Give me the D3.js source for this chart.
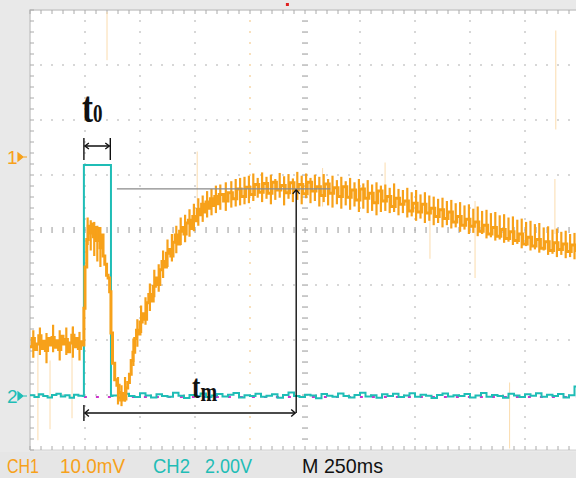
<!DOCTYPE html>
<html><head><meta charset="utf-8">
<script src="https://cdn.jsdelivr.net/npm/d3@7"></script>
<style>
html,body{margin:0;padding:0;background:#fff;}
svg{display:block;}
</style></head>
<body>
<svg id="c" width="576" height="478"></svg>
<script>
// ---------------- DATA ----------------
// CH1 (orange) samples: [time ms, mV relative to marker "1"]
const ch1Samples = [
 [0,-34.5],[10,-33.0],[20,-35.0],[30,-34.0],[40,-32.5],[50,-34.8],[60,-33.5],[70,-35.2],[80,-33.0],[90,-34.2],
 [100,-32.8],[110,-34.6],[120,-33.4],[130,-35.0],[140,-32.6],[150,-34.0],[160,-33.2],[170,-35.4],[180,-33.8],[190,-32.4],
 [200,-34.5],[210,-33.0],[220,-34.8],[230,-33.6],[240,-34.2],
 [245,-27.5],[250,-20.0],[258,-15.0],[265,-12.6],[272,-13.8],[280,-12.2],[288,-14.5],[295,-12.8],[302,-15.2],[310,-13.0],
 [318,-16.5],[325,-14.2],[332,-18.0],[340,-19.5],[348,-21.5],[355,-22.0],[362,-24.5],[368,-32.0],[375,-37.5],[385,-40.5],
 [395,-41.5],[405,-42.8],[412,-44.2],[420,-43.0],[428,-44.0],[436,-42.0],[444,-41.0],[452,-39.5],[460,-37.0],[468,-35.5],
 [476,-33.0],[484,-31.5],[492,-32.2],[500,-30.0],[510,-28.5],[520,-29.5],[530,-26.5],[540,-25.0],[550,-26.2],[560,-23.5],
 [570,-22.0],[580,-23.2],[590,-20.5],[600,-19.0],[610,-20.0],[620,-17.5],[630,-16.8],[640,-18.0],[650,-15.5],[660,-14.2],
 [670,-15.8],[680,-13.5],[690,-12.8],[700,-14.0],[710,-12.0],[720,-11.5],[730,-13.0],[740,-10.8],[750,-11.6],[760,-9.5],
 [770,-10.5],[780,-8.6],[790,-10.0],[800,-8.2],[810,-9.3],[820,-7.6],[830,-8.8],[840,-7.2],[850,-8.5],[860,-6.8],
 [880,-8.0],[900,-6.5],[920,-7.6],[940,-5.8],[960,-7.2],[980,-5.5],[1000,-6.8],[1020,-5.0],[1040,-6.4],[1060,-4.8],
 [1080,-6.6],[1100,-4.6],[1120,-6.0],[1140,-5.2],[1160,-6.5],[1180,-4.7],[1200,-6.0],[1220,-5.0],[1240,-6.7],[1260,-4.6],
 [1280,-6.2],[1300,-5.4],[1320,-7.0],[1340,-4.9],[1360,-6.6],[1380,-5.6],[1400,-7.2],[1420,-5.4],[1440,-7.3],[1460,-6.0],
 [1480,-7.8],[1500,-5.8],[1520,-7.5],[1540,-6.6],[1560,-8.3],[1580,-6.2],[1600,-8.0],[1620,-7.2],[1640,-9.0],[1660,-7.5],
 [1680,-8.6],[1700,-8.0],[1720,-9.8],[1740,-8.4],[1760,-10.0],[1780,-8.6],[1800,-10.2],[1820,-9.3],[1840,-10.8],[1860,-9.6],
 [1880,-11.2],[1900,-10.0],[1920,-11.8],[1940,-10.8],[1960,-12.4],[1980,-11.3],[2000,-12.6],[2020,-11.8],[2040,-13.5],[2060,-12.4],
 [2080,-14.0],[2100,-12.8],[2120,-14.4],[2140,-13.2],[2160,-14.8],[2180,-13.6],[2200,-15.2],[2220,-14.0],[2240,-15.8],[2260,-14.6],
 [2280,-16.2],[2300,-15.0],[2320,-16.6],[2340,-15.4],[2360,-17.0],[2380,-15.6],[2400,-16.8],[2420,-15.8],[2440,-17.2],[2460,-16.0],
 [2480,-17.0],[2500,-16.5]
];
// CH1 noise spikes drawn on the trace: [time ms, top mV, bottom mV]
const ch1Spikes = [
 [15,-31.5,-36.5],[45,-31,-36],[75,-32,-37.5],[105,-30.5,-35.5],[135,-31.5,-37],[165,-31,-36],[195,-30.8,-36.5],[225,-31.8,-37],
 [262,-11,-16],[276,-11.5,-17],[292,-11.8,-18],[306,-12.5,-19],[320,-14,-20],
 [400,-40,-45],[416,-41.5,-45.3],[432,-40,-44.5],
 [470,-33,-38],[488,-29.5,-34.5],[505,-27,-32],[525,-25.5,-30.5],[545,-23,-28],[565,-20.5,-25.5],[585,-19.5,-24.5],[605,-17,-22],
 [625,-15,-20],[645,-14,-19],[665,-12.5,-17.5],[685,-11,-16],[705,-10.5,-15.5],[725,-9.5,-14.5],[745,-8.5,-13.5],[765,-7.5,-12.5],
 [785,-7,-11.8],[805,-6.2,-11],[825,-5.8,-10.6],[845,-5.2,-10.2],[865,-5,-9.6],[890,-4.6,-9.8],[915,-4.4,-9.2],[935,-4.0,-9.0],
 [955,-3.8,-8.8],[975,-3.6,-8.6],[995,-3.4,-8.4],
 [1015,-3.0,-8.0],[1035,-3.8,-7.4],[1055,-2.8,-8.2],[1075,-3.6,-7.6],[1095,-3.2,-8.6],[1115,-4.0,-7.8],[1135,-2.9,-7.4],[1155,-3.5,-8.8],
 [1175,-3.1,-7.6],[1195,-3.9,-8.2],[1215,-2.7,-7.8],[1235,-3.4,-8.6],[1255,-3.0,-7.5],[1275,-3.8,-8.4],[1295,-3.2,-8.0],[1315,-3.6,-9.0],
 [1335,-3.1,-8.2],[1355,-4.0,-8.8],[1375,-3.4,-9.2],[1395,-4.2,-8.6],[1415,-3.6,-9.4],[1435,-4.4,-8.8],[1455,-3.8,-9.6],[1475,-4.6,-9.0],
 [1495,-4.0,-10.0],[1515,-4.8,-9.4],[1535,-4.2,-10.2],[1555,-5.0,-9.8],[1575,-4.6,-10.6],[1595,-5.2,-10.0],
 [1615,-5.0,-9.8],[1635,-5.6,-10.2],[1655,-4.8,-10.0],[1675,-5.8,-10.6],[1695,-6.0,-10.2],[1715,-5.6,-11.0],[1735,-6.4,-10.8],[1755,-6.0,-11.6],
 [1775,-6.8,-11.2],[1795,-6.4,-12.0],[1815,-7.0,-11.6],[1835,-7.2,-12.4],[1855,-7.6,-12.0],[1875,-7.4,-12.8],[1895,-8.0,-12.4],[1915,-7.8,-13.0],
 [1935,-8.4,-12.8],[1955,-8.2,-13.6],[1975,-8.8,-13.2],[1995,-8.6,-14.0],[2015,-9.4,-13.8],[2035,-9.0,-14.4],[2055,-9.8,-14.0],[2075,-9.6,-14.8],
 [2095,-10.2,-14.6],[2115,-10.0,-15.2],[2135,-10.6,-15.0],[2155,-10.4,-15.6],[2175,-11.0,-15.4],[2195,-10.8,-16.0],[2215,-11.4,-15.8],[2235,-11.2,-16.6],
 [2255,-11.8,-16.2],[2275,-11.6,-17.0],[2295,-12.2,-16.8],[2315,-12.0,-17.4],[2335,-12.8,-17.0],[2355,-12.6,-17.8],[2375,-13.2,-17.6],[2395,-13.0,-18.2],
 [2415,-13.6,-17.8],[2435,-13.4,-18.4],[2455,-14.0,-18.2],[2475,-13.8,-18.6],[2495,-14.2,-18.4]
];
// faint persistence lines of CH1: [time ms, top mV, bottom mV]
const ch1Ghosts = [
 [36,-35,-51.5],[91,-37,-49.5],[191,-31,-47.5],[350,26.4,17.6],[1614,-1,-8],
 [1818,-10,-18.5],[2023,-8,-22],[2386,-4,-14],[2390,23,5],[2180,-41,-53],[1330,-2,-9],[760,1,-9]
];
// CH2 (cyan) samples, volts
const ch2Pre = [0.03,-0.04,0.06,0.00,-0.05,0.04,0.08,-0.02,0.03,-0.06,0.05,0.01,0.00]; // every 20 ms from 0
const ch2PulseStart = 245, ch2PulseEnd = 368, ch2PulseLevel = 8.4;
const ch2Post = [ // every 25 ms from 375
 0.02,-0.06,0.08,0.00,-0.04,0.10,0.02,-0.05,0.06,0.00,
 -0.03,0.12,0.01,-0.07,0.04,0.00,0.09,-0.04,0.02,0.07,
 -0.02,0.05,0.11,-0.05,0.03,0.00,0.08,-0.03,0.01,0.06,
 -0.06,0.04,0.13,0.00,-0.04,0.05,0.02,-0.08,0.07,0.01,
 -0.03,0.09,0.00,-0.05,0.04,0.12,-0.02,0.03,-0.06,0.06,
 0.00,0.08,-0.04,0.02,0.10,-0.03,0.05,0.01,-0.07,0.04,
 0.09,-0.02,0.03,0.00,0.07,-0.05,0.02,0.11,-0.03,0.04,
 0.00,-0.06,0.08,0.02,-0.04,0.06,0.01,0.10,-0.03,0.05,
 0.00,0.07,-0.05,0.03,0.35,0.02
];
// annotation values
const t0Start = 245, t0End = 365;      // ms
const tmEnd = 1210;                    // ms
const peakLevel = -5.8;                // mV
const refLineStart = 395, refLineEnd = 1365; // ms
// status labels
const statusLabels = [
 {text:"CH1", x:7, len:32, color:"#f7a11a"},
 {text:"10.0mV", x:60, len:65, color:"#f7a11a"},
 {text:"CH2", x:153, len:37, color:"#1fbdb6"},
 {text:"2.00V", x:205, len:47, color:"#1fbdb6"},
 {text:"M 250ms", x:302, len:81, color:"#111"}
];

// ---------------- SCALES ----------------
const svg = d3.select("#c");
const W = 576, H = 478;
const xT = d3.scaleLinear().domain([0, 2500]).range([30, 580]);
const xDiv = d3.scaleLinear().domain([0, 10]).range([30, 580]);
const yDiv = d3.scaleLinear().domain([0, 8]).range([10, 450]);
const y1 = d3.scaleLinear().domain([0, -10]).range([157, 212]);
const y2 = d3.scaleLinear().domain([0, 2]).range([396, 341]);

const ORANGE = "#f7a11a", CYAN = "#1fbdb6", MAG = "#cc33cc";

// backgrounds
svg.append("rect").attr("width", W).attr("height", H).attr("fill", "#e9e9e9");
svg.append("rect").attr("x", xDiv(0)).attr("y", yDiv(0)).attr("width", W - xDiv(0)).attr("height", yDiv(8) - yDiv(0)).attr("fill", "#fff");
svg.append("rect").attr("x", 0).attr("y", yDiv(8) + 2).attr("width", W).attr("height", H - yDiv(8) - 2).attr("fill", "#e6e6e6");

// border
const grid = svg.append("g");
grid.append("path").attr("d", `M${xDiv(0)},${yDiv(8)}V${yDiv(0)}H${W}`).attr("stroke", "#c9c9c9").attr("fill", "none").attr("stroke-width", 1.5);
grid.append("path").attr("d", `M${xDiv(0)},${yDiv(8)}H${W}`).attr("stroke", "#d2d2d2").attr("fill", "none").attr("stroke-width", 1);

const minorX = d3.range(0, 50.001, 1).map(i => i / 5);
const minorY = d3.range(0, 40.001, 1).map(i => i / 5);
// border ticks
grid.selectAll(".tt").data(minorX).join("line")
  .attr("x1", d => xDiv(d)).attr("x2", d => xDiv(d)).attr("y1", yDiv(0)).attr("y2", yDiv(0) + 4)
  .attr("stroke", "#aaa").attr("stroke-width", 1);
grid.selectAll(".bt").data(minorX).join("line")
  .attr("x1", d => xDiv(d)).attr("x2", d => xDiv(d)).attr("y1", yDiv(8)).attr("y2", yDiv(8) - 4)
  .attr("stroke", "#aaa").attr("stroke-width", 1);
grid.selectAll(".lt").data(minorY).join("line")
  .attr("x1", xDiv(0)).attr("x2", xDiv(0) + 4).attr("y1", d => yDiv(d)).attr("y2", d => yDiv(d))
  .attr("stroke", "#aaa").attr("stroke-width", 1);

// dotted grid
for (let i = 1; i < 10; i++) {
  if (i === 5) continue;
  grid.selectAll(null).data(minorY.filter(d => d > 0 && d < 8)).join("rect")
    .attr("x", xDiv(i) - 0.75).attr("y", d => yDiv(d) - 0.75).attr("width", 1.5).attr("height", 1.5)
    .attr("fill", i === 4 ? "#f3c98a" : "#b8b8b8");
}
for (let j = 1; j < 8; j++) {
  if (j === 4) continue;
  grid.selectAll(null).data(minorX.filter(d => d > 0 && d < 10 && Math.abs(d * 5 % 5) > 0.01)).join("rect")
    .attr("x", d => xDiv(d) - 0.75).attr("y", yDiv(j) - 0.75).attr("width", 1.5).attr("height", 1.5).attr("fill", "#b8b8b8");
}
// center cross dashes
grid.selectAll(null).data(minorY.filter(d => d > 0 && d < 8)).join("rect")
  .attr("x", xDiv(5) - 3).attr("y", d => yDiv(d) - 0.6).attr("width", 6).attr("height", 1.3).attr("fill", "#b0b0b0");
grid.selectAll(null).data(minorX.filter(d => d > 0 && d < 10)).join("rect")
  .attr("x", d => xDiv(d) - 0.6).attr("y", yDiv(4) - 3).attr("width", 1.3).attr("height", 6).attr("fill", "#b0b0b0");

// trigger marker
svg.append("rect").attr("x", xT(1170) - 1.5).attr("y", 3).attr("width", 3).attr("height", 3).attr("fill", "#e02020");

// clip
svg.append("clipPath").attr("id", "clip").append("rect")
  .attr("x", xDiv(0)).attr("y", yDiv(0)).attr("width", W - xDiv(0)).attr("height", yDiv(8) - yDiv(0));
const plot = svg.append("g").attr("clip-path", "url(#clip)");

// ghosts
plot.selectAll(".g").data(ch1Ghosts).join("line")
  .attr("x1", d => xT(d[0])).attr("x2", d => xT(d[0]))
  .attr("y1", d => y1(d[1])).attr("y2", d => y1(d[2]))
  .attr("stroke", "#fbdcae").attr("stroke-width", 1);

// CH2 magenta reference (dashed)
plot.append("line").attr("x1", xT(t0Start)).attr("x2", W).attr("y1", y2(0) + 1).attr("y2", y2(0) + 1)
  .attr("stroke", MAG).attr("stroke-width", 2).attr("stroke-dasharray", "3,9");

// CH2 trace
const ch2 = [];
ch2Pre.forEach((v, i) => ch2.push([i * 20, v]));
ch2.push([ch2PulseStart, ch2PulseLevel]);
ch2.push([ch2PulseEnd, 0]);
ch2Post.forEach((v, i) => ch2.push([375 + i * 25, v]));
plot.append("path").datum(ch2)
  .attr("d", d3.line().x(d => xT(d[0])).y(d => y2(d[1])).curve(d3.curveStepAfter))
  .attr("fill", "none").attr("stroke", CYAN).attr("stroke-width", 2);

// CH1 trace
plot.append("path").datum(ch1Samples)
  .attr("d", d3.line().x(d => xT(d[0])).y(d => y1(d[1])).curve(d3.curveStepAfter))
  .attr("fill", "none").attr("stroke", ORANGE).attr("stroke-width", 3).attr("stroke-linejoin", "miter");
plot.selectAll(".sp").data(ch1Spikes).join("line")
  .attr("x1", d => xT(d[0])).attr("x2", d => xT(d[0]))
  .attr("y1", d => y1(d[1])).attr("y2", d => y1(d[2]))
  .attr("stroke", ORANGE).attr("stroke-width", 2.2);

// ---------------- ANNOTATIONS ----------------
const ann = svg.append("g").attr("stroke", "#111").attr("fill", "none").attr("stroke-width", 1.4);
// t0 bracket
const bx0 = xT(t0Start), bx1 = xT(t0End), by = 146;
ann.append("path").attr("d", `M${bx0},138V160M${bx1},138V160M${bx0 + 1},${by}H${bx1 - 1}`);
ann.append("path").attr("d", `M${bx0 + 5},${by - 3}L${bx0 + 1},${by}L${bx0 + 5},${by + 3}M${bx1 - 5},${by - 3}L${bx1 - 1},${by}L${bx1 - 5},${by + 3}`);
// gray reference line at peak level
svg.append("line").attr("x1", xT(refLineStart)).attr("x2", xT(refLineEnd)).attr("y1", y1(peakLevel)).attr("y2", y1(peakLevel))
  .attr("stroke", "#8a8a8a").attr("stroke-width", 1.4);
// vertical arrow at tm
const tx = xT(tmEnd), ay = 413;
ann.append("path").attr("d", `M${tx},${ay}V${y1(peakLevel)}`);
ann.append("path").attr("d", `M${tx - 3.5},${y1(peakLevel) + 5}L${tx},${y1(peakLevel) + 1}L${tx + 3.5},${y1(peakLevel) + 5}`);
// tm horizontal arrow
ann.append("path").attr("d", `M${bx0},405V421M${bx0 + 1},${ay}H${tx - 1}`);
ann.append("path").attr("d", `M${bx0 + 5},${ay - 3.5}L${bx0 + 1},${ay}L${bx0 + 5},${ay + 3.5}M${tx - 5},${ay - 3.5}L${tx - 1},${ay}L${tx - 5},${ay + 3.5}`);

const serif = "'Liberation Serif','Times New Roman',serif";
function label(x, y, txt, size) {
  svg.append("text").attr("transform", `translate(${x},${y}) scale(1,1.35)`)
    .attr("font-family", serif).attr("font-weight", "bold").attr("font-size", size).attr("fill", "#111").text(txt);
}
label(82, 122, "t", 33);
label(93, 122, "0", 19);
label(192, 398, "t", 25);
label(200.5, 401, "m", 20);

// channel markers
function marker(yy, txt, color) {
  svg.append("text").attr("x", 7).attr("y", yy + 7).attr("font-family", "'Liberation Sans',Arial,sans-serif")
    .attr("font-size", 19).attr("fill", color).text(txt);
  svg.append("path").attr("d", `M18,${yy - 4}L23,${yy}L18,${yy + 4}Z M22,${yy}H27`).attr("fill", color).attr("stroke", color).attr("stroke-width", 1.2);
}
marker(y1(0), "1", ORANGE);
marker(y2(0), "2", CYAN);

// status bar
svg.selectAll(".st").data(statusLabels).join("text")
  .attr("x", d => d.x).attr("y", 473)
  .attr("font-family", "'Liberation Sans',Arial,sans-serif").attr("font-size", 21)
  .attr("textLength", d => d.len).attr("lengthAdjust", "spacingAndGlyphs")
  .attr("fill", d => d.color).text(d => d.text);
</script>
</body></html>
